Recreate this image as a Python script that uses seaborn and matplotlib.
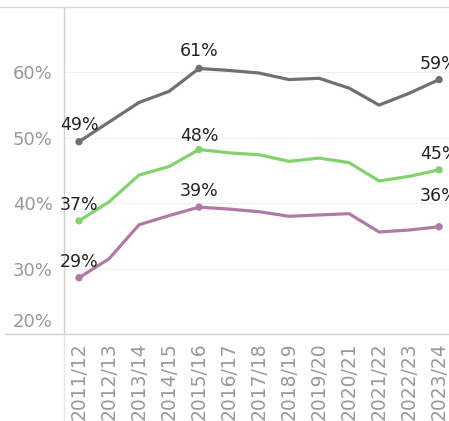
import matplotlib
matplotlib.use("Agg")
import matplotlib.pyplot as plt
import seaborn as sns
import pandas as pd
from matplotlib.lines import Line2D
from matplotlib.transforms import ScaledTranslation

years = ["2011/12", "2012/13", "2013/14", "2014/15", "2015/16", "2016/17", "2017/18",
         "2018/19", "2019/20", "2020/21", "2021/22", "2022/23", "2023/24"]
grey_vals = [49.4, 52.4, 55.4, 57.1, 60.6, 60.3, 59.9, 58.9, 59.1, 57.6, 55.0, 56.8, 58.9]
green_vals = [37.3, 40.2, 44.3, 45.6, 48.2, 47.7, 47.4, 46.4, 46.9, 46.2, 43.4, 44.1, 45.1]
purple_vals = [28.6, 31.5, 36.7, 38.1, 39.4, 39.1, 38.7, 38.0, 38.2, 38.4, 35.6, 35.9, 36.4]
series_names = ["grey", "green", "purple"]
colors = {"grey": "#766e6e", "green": "#84d16f", "purple": "#b07aa6"}
y_ticks = [20, 30, 40, 50, 60]

df = pd.DataFrame({
    "year": years * 3,
    "idx": list(range(len(years))) * 3,
    "value": grey_vals + green_vals + purple_vals,
    "series": sum([[s] * len(years) for s in series_names], []),
})

sns.set_theme(style="white")
fig = plt.figure(figsize=(4.49, 4.21), dpi=100)
ax = fig.add_axes([64 / 449, 87 / 421, (449 - 64) / 449, 327 / 421])

sns.lineplot(data=df, x="idx", y="value", hue="series", palette=colors,
             linewidth=2.3, ax=ax, legend=False, sort=False)

label_offsets = {("grey", 0): 17, ("grey", 4): 17, ("grey", 12): 16,
                 ("green", 0): 16, ("green", 4): 14, ("green", 12): 16,
                 ("purple", 0): 16, ("purple", 4): 16, ("purple", 12): 31}
for s, vals in zip(series_names, [grey_vals, green_vals, purple_vals]):
    imax = max(range(len(vals)), key=lambda i: vals[i])
    pts = [0, imax, len(vals) - 1]
    sub = df[(df.series == s) & (df.idx.isin(pts))]
    sns.scatterplot(data=sub, x="idx", y="value", color=colors[s], s=28,
                    edgecolor="none", ax=ax, legend=False, zorder=5)
    for i in pts:
        ax.annotate(f"{round(vals[i])}%", (i, vals[i]),
                    xytext=(0, label_offsets[(s, i)] * 72 / 100), textcoords="offset points",
                    ha="center", va="center", fontsize=12.5, color="#222222",
                    annotation_clip=False)

ax.set_xlim(-0.5, 12.33)
ax.set_ylim(20, 70)
ax.set_yticks(y_ticks)
ax.set_yticklabels([f"{t}%" for t in y_ticks], fontsize=13, color="#999999")
ax.set_xticks(range(len(years)))
ax.set_xticklabels(years, rotation=90, fontsize=13.5, color="#999999", va="top")
ax.set_xlabel("")
ax.set_ylabel("")
ax.tick_params(axis="both", length=0, pad=8)
ax.tick_params(axis="x", pad=6)
ax.set_xticks([i + 0.5 for i in range(len(years) - 1)], minor=True)
ax.tick_params(axis="x", which="minor", length=9, color="#eeeeee", width=0.8)
for t in [30, 40, 50, 60]:
    ax.axhline(t, color="#f0f0f0", linewidth=0.9, zorder=0)
for sp in ["top", "right", "bottom"]:
    ax.spines[sp].set_visible(False)
ax.spines["left"].set_color("#d0d0d0")
ax.spines["left"].set_linewidth(1.0)

# lift the lowest tick label above the baseline, as in the reference
lbl = ax.get_yticklabels()[0]
lbl.set_transform(lbl.get_transform() + ScaledTranslation(0, 14 / 100, fig.dpi_scale_trans))

fig.add_artist(Line2D([0, 1], [414 / 421, 414 / 421], color="#d8d8d8", linewidth=1.0))
fig.add_artist(Line2D([5 / 449, 1], [87 / 421, 87 / 421], color="#cfcfcf", linewidth=1.0))
fig.add_artist(Line2D([64 / 449, 64 / 449], [0, 87 / 421], color="#e6e6e6", linewidth=1.0))

fig.savefig("out.png", dpi=100)
